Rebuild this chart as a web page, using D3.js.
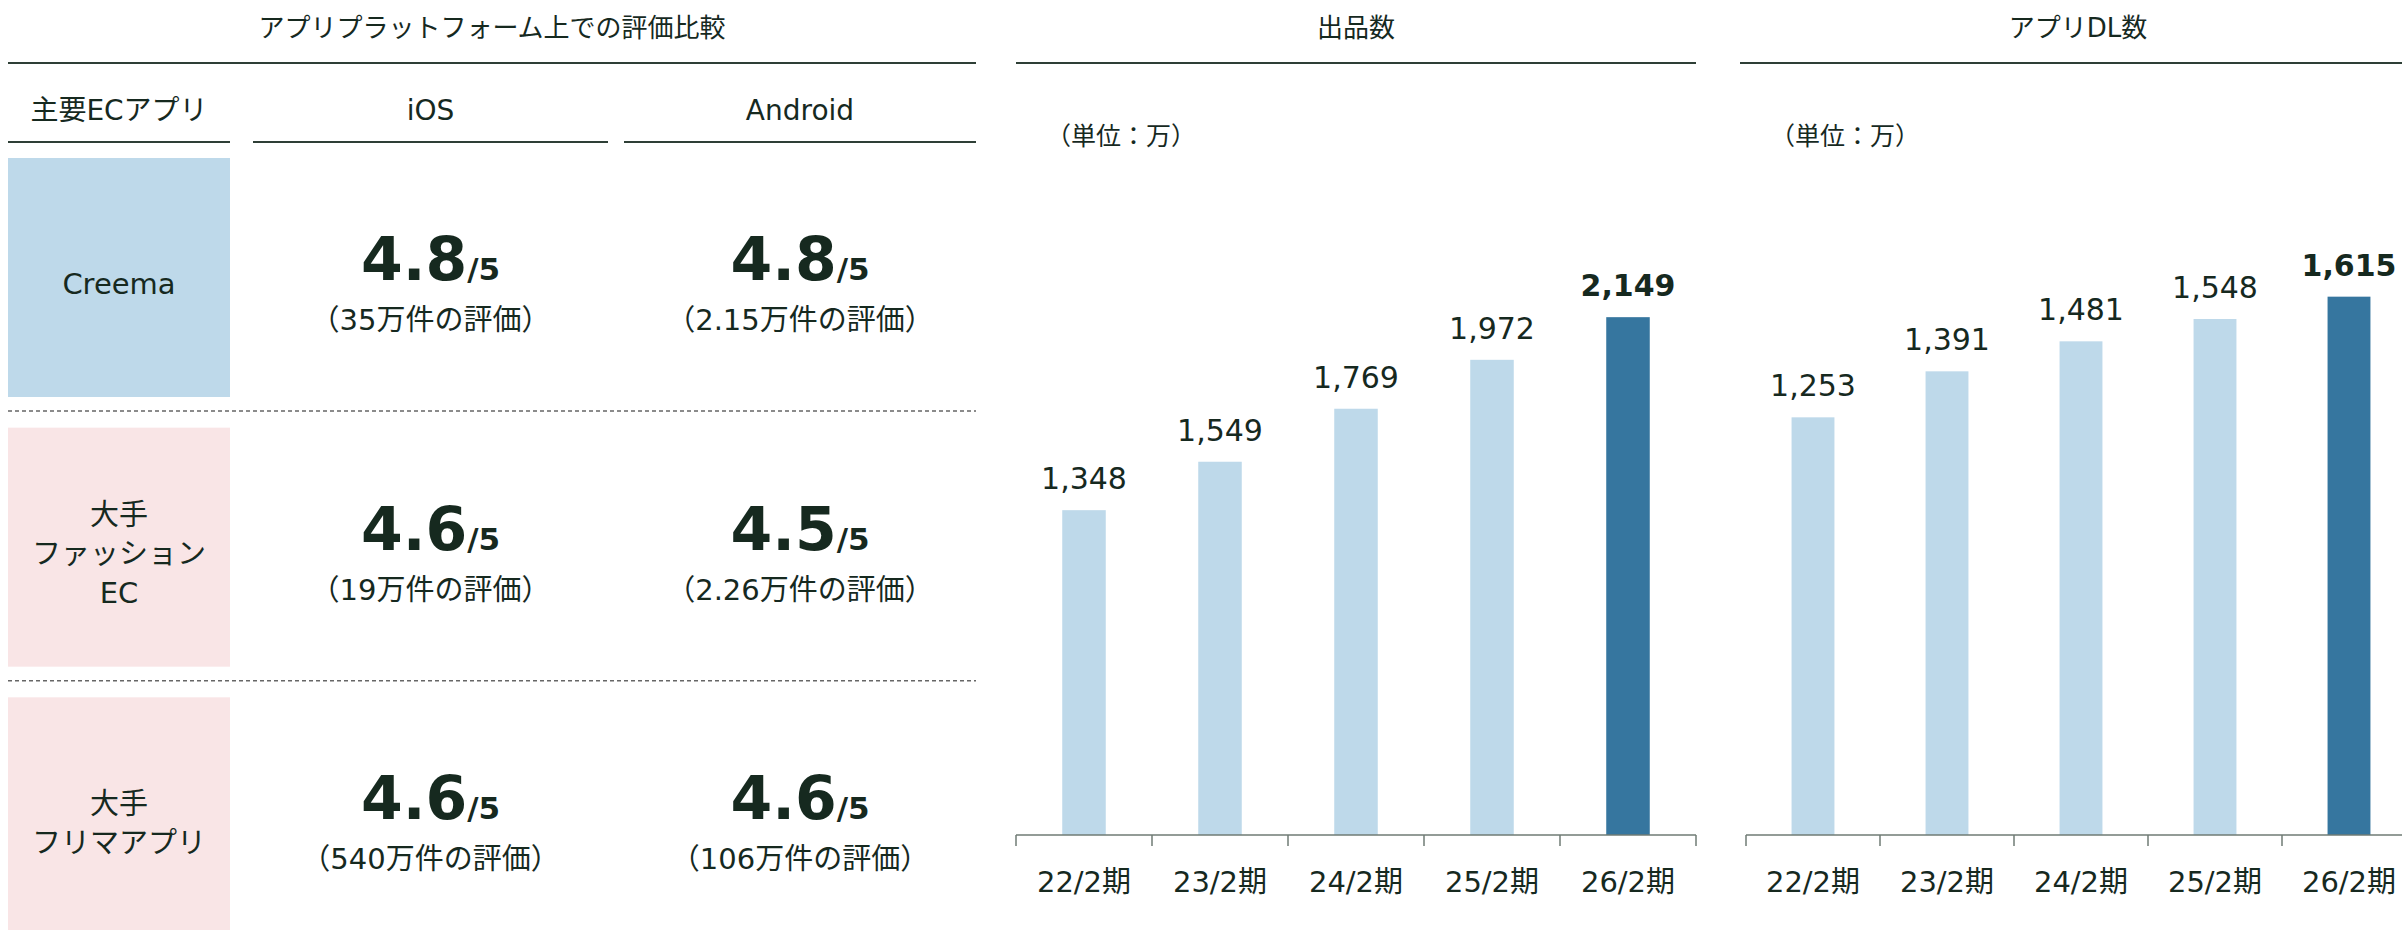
<!DOCTYPE html>
<html lang="ja">
<head>
<meta charset="utf-8">
<script src="https://cdn.jsdelivr.net/npm/d3@7"></script>
<style>
  body { margin: 0; background: #fff; }
  svg { display: block; font-family: "DejaVu Sans", "Noto Sans CJK JP", sans-serif; }
</style>
</head>
<body>
<svg id="chart"></svg>
<script>
// table data
const apps = ['Creema', '大手\nファッション\nEC', '大手\nフリマアプリ']
const platforms = ['iOS', 'Android']
const iosRatings = [4.8, 4.6, 4.6]
const androidRatings = [4.8, 4.5, 4.6]
const iosReviews = ['35万', '19万', '540万']
const androidReviews = ['2.15万', '2.26万', '106万']

// bar chart data
const periods = ['22/2期', '23/2期', '24/2期', '25/2期', '26/2期']
const listings = [1348, 1549, 1769, 1972, 2149]
const downloads = [1253, 1391, 1481, 1548, 1615]

const W = 2402, H = 930
const ink = '#16291f'
const ruleCol = '#2e3f36'
const lightBar = '#bed9ea'
const darkBar = '#36769f'
const boxCols = ['#bed9ea', '#f9e5e6', '#f9e5e6']

const svg = d3.select('#chart')
  .attr('width', W)
  .attr('height', H)

// ---------- left: rating table ----------
const tbl = svg.append('g')

tbl.append('text')
  .attr('x', 492).attr('y', 28)
  .attr('text-anchor', 'middle')
  .attr('dominant-baseline', 'central')
  .style('font-size', '26px')
  .attr('fill', ink)
  .text('アプリプラットフォーム上での評価比較')

tbl.append('line')
  .attr('x1', 8).attr('x2', 976)
  .attr('y1', 63).attr('y2', 63)
  .attr('stroke', ruleCol).attr('stroke-width', 2)

// columns: app name, iOS, Android
const cols = [
  { label: '主要ECアプリ', x0: 8, x1: 230 },
  { label: platforms[0], x0: 253, x1: 608 },
  { label: platforms[1], x0: 624, x1: 976 }
]

cols.forEach(c => {
  tbl.append('text')
    .attr('x', (c.x0 + c.x1) / 2).attr('y', 110)
    .attr('text-anchor', 'middle')
    .attr('dominant-baseline', 'central')
    .style('font-size', '28px')
    .attr('fill', ink)
    .text(c.label)
  tbl.append('line')
    .attr('x1', c.x0).attr('x2', c.x1)
    .attr('y1', 142).attr('y2', 142)
    .attr('stroke', ruleCol).attr('stroke-width', 2)
})

const rowY = d3.scaleBand()
  .domain(d3.range(apps.length))
  .range([151, 960])

const fmt = d3.format('.1f')

apps.forEach((app, i) => {
  const top = rowY(i) + 7

  tbl.append('rect')
    .attr('x', 8).attr('y', top)
    .attr('width', 222).attr('height', 239)
    .attr('fill', boxCols[i])

  const lines = app.split('\n')
  const lh = 39
  const cy = top + 126
  lines.forEach((ln, j) => {
    tbl.append('text')
      .attr('x', 119)
      .attr('y', cy + (j - (lines.length - 1) / 2) * lh)
      .attr('text-anchor', 'middle')
      .attr('dominant-baseline', 'central')
      .style('font-size', '29px')
      .attr('fill', ink)
      .text(ln)
  })

  const cells = [
    { col: cols[1], r: iosRatings[i], n: iosReviews[i] },
    { col: cols[2], r: androidRatings[i], n: androidReviews[i] }
  ]
  cells.forEach(c => {
    const cx = (c.col.x0 + c.col.x1) / 2
    const t = tbl.append('text')
      .attr('x', cx).attr('y', top + 122)
      .attr('text-anchor', 'middle')
      .attr('fill', ink)
      .style('font-weight', 'bold')
    t.append('tspan').style('font-size', '60px').text(fmt(c.r))
    t.append('tspan').style('font-size', '31px').text('/5')

    tbl.append('text')
      .attr('x', cx).attr('y', top + 162)
      .attr('text-anchor', 'middle')
      .attr('dominant-baseline', 'central')
      .style('font-size', '29px')
      .attr('fill', ink)
      .text(`（${c.n}件の評価）`)
  })

  if (i < apps.length - 1) {
    tbl.append('line')
      .attr('x1', 8).attr('x2', 976)
      .attr('y1', rowY(i) + 260).attr('y2', rowY(i) + 260)
      .attr('stroke', '#666').attr('stroke-width', 1.5)
      .attr('stroke-dasharray', '4,3')
  }
})

// ---------- bar charts ----------
function barChart(opts) {
  const { title, values, max, lineX0, lineX1, x0, x1, titleX } = opts
  const g = svg.append('g')
  const baseY = 835

  g.append('text')
    .attr('x', titleX).attr('y', 28)
    .attr('text-anchor', 'middle')
    .attr('dominant-baseline', 'central')
    .style('font-size', '26px')
    .attr('fill', ink)
    .text(title)

  g.append('line')
    .attr('x1', lineX0).attr('x2', lineX1)
    .attr('y1', 63).attr('y2', 63)
    .attr('stroke', ruleCol).attr('stroke-width', 2)

  g.append('text')
    .attr('x', lineX0 + 30).attr('y', 136)
    .attr('dominant-baseline', 'central')
    .style('font-size', '25px')
    .attr('fill', ink)
    .text('（単位：万）')

  const x = d3.scaleBand()
    .domain(periods)
    .range([x0, x1])
    .paddingInner(0.68)
    .paddingOuter(0.34)

  const y = d3.scaleLinear()
    .domain([0, max])
    .range([baseY, baseY - 600])

  g.selectAll('rect.bar')
    .data(values)
    .join('rect')
    .attr('class', 'bar')
    .attr('x', (d, i) => x(periods[i]))
    .attr('y', d => y(d))
    .attr('width', x.bandwidth())
    .attr('height', d => y(0) - y(d))
    .attr('fill', (d, i) => i === values.length - 1 ? darkBar : lightBar)

  g.selectAll('text.val')
    .data(values)
    .join('text')
    .attr('class', 'val')
    .attr('x', (d, i) => x(periods[i]) + x.bandwidth() / 2)
    .attr('y', d => y(d) - 21)
    .attr('text-anchor', 'middle')
    .style('font-size', '30px')
    .style('font-weight', (d, i) => i === values.length - 1 ? 'bold' : 'normal')
    .attr('fill', ink)
    .text(d => d3.format(',')(d))

  // category labels
  const xAxis = d3.axisBottom(x).tickSize(0)
  const ax = g.append('g')
    .attr('transform', `translate(0, ${baseY})`)
    .call(xAxis)
  ax.select('.domain').remove()
  ax.selectAll('text')
    .attr('y', 47)
    .attr('dy', '0.35em')
    .style('font-size', '29px')
    .style('font-family', '"DejaVu Sans", "Noto Sans CJK JP", sans-serif')
    .attr('fill', ink)

  // base line and boundary ticks
  g.append('line')
    .attr('x1', x0).attr('x2', x1)
    .attr('y1', baseY).attr('y2', baseY)
    .attr('stroke', '#6f7b74').attr('stroke-width', 1.5)
  const edges = periods.map(p => x(p) + x.bandwidth() / 2 - x.step() / 2)
  edges.push(x1)
  g.selectAll('line.tk')
    .data(edges)
    .join('line')
    .attr('class', 'tk')
    .attr('x1', d => d).attr('x2', d => d)
    .attr('y1', baseY).attr('y2', baseY + 11)
    .attr('stroke', '#6f7b74').attr('stroke-width', 1.5)
}

barChart({
  title: '出品数', values: listings, max: 2490,
  lineX0: 1016, lineX1: 1696, x0: 1016, x1: 1696, titleX: 1356
})

barChart({
  title: 'アプリDL数', values: downloads, max: 1800,
  lineX0: 1740, lineX1: 2402, x0: 1746, x1: 2416, titleX: 2078
})
</script>
</body>
</html>
